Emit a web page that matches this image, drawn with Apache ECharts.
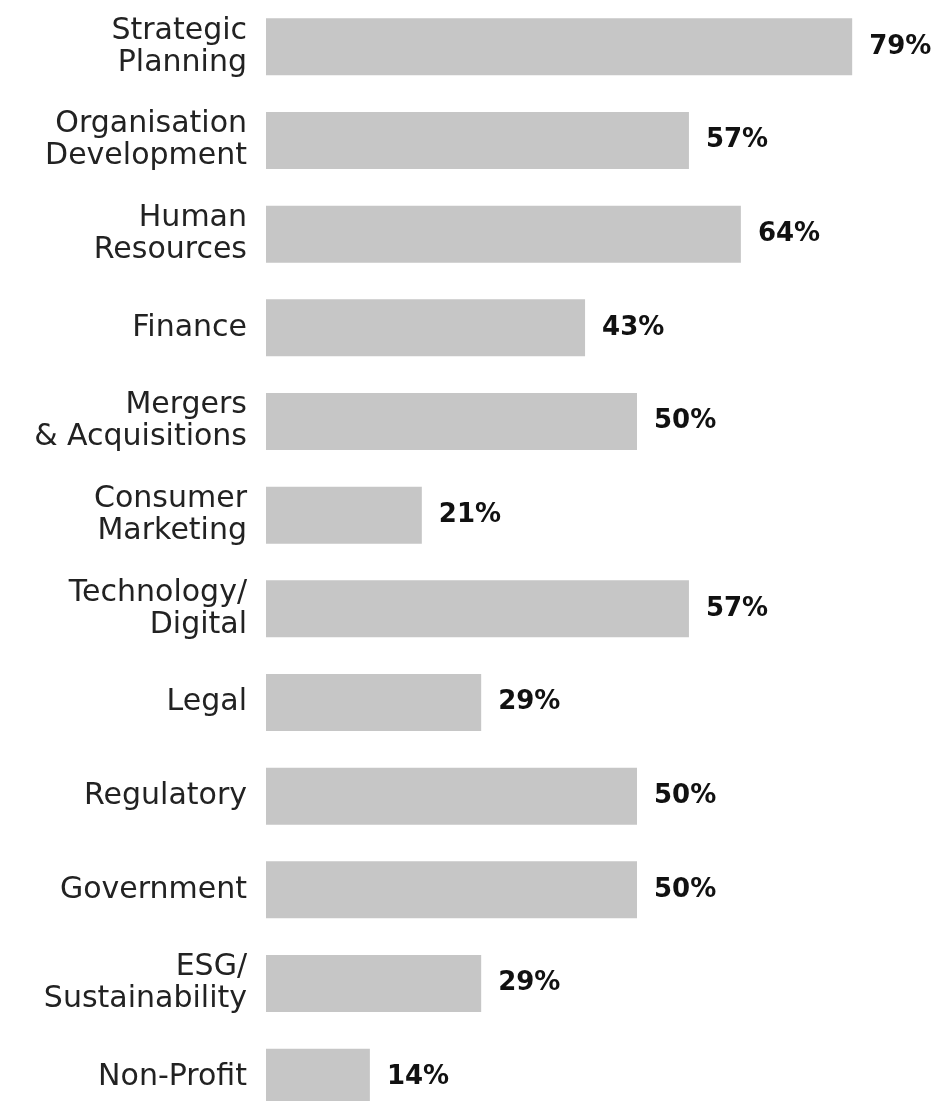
<!DOCTYPE html>
<html>
<head>
<meta charset="utf-8">
<script src="https://cdn.jsdelivr.net/npm/echarts@6/dist/echarts.min.js"></script>
<style>
  html, body { margin: 0; padding: 0; background: #fff; }
  #chart { width: 938px; height: 1101px; }
</style>
</head>
<body>
<div id="chart"></div>
<script>
// categories, top to bottom
const categories = [
  'Strategic\nPlanning',
  'Organisation\nDevelopment',
  'Human\nResources',
  'Finance',
  'Mergers\n& Acquisitions',
  'Consumer\nMarketing',
  'Technology/\nDigital',
  'Legal',
  'Regulatory',
  'Government',
  'ESG/\nSustainability',
  'Non-Profit'
];
const shares = [79, 57, 64, 43, 50, 21, 57, 29, 50, 50, 29, 14];

const chart = echarts.init(document.getElementById('chart'));

chart.setOption({
  animation: false,
  backgroundColor: '#ffffff',
  grid: { left: 266, top: 0, width: 742, height: 1124, outerBoundsMode: 'none', containLabel: false },
  xAxis: {
    type: 'value',
    min: 0,
    max: 100,
    show: false
  },
  yAxis: {
    type: 'category',
    data: categories,
    inverse: true,
    axisLine: { show: false },
    axisTick: { show: false },
    splitLine: { show: false },
    axisLabel: {
      margin: 19,
      color: '#222',
      fontFamily: 'DejaVu Sans',
      fontSize: 30,
      lineHeight: 32,
      align: 'right'
    }
  },
  series: [{
    type: 'bar',
    data: shares,
    barWidth: 57,
    itemStyle: { color: '#c6c6c6' },
    label: {
      show: true,
      position: 'right',
      distance: 17,
      formatter: '{c}%',
      color: '#111',
      fontFamily: 'DejaVu Sans',
      fontWeight: 'bold',
      fontSize: 26
    }
  }]
});
</script>
</body>
</html>
